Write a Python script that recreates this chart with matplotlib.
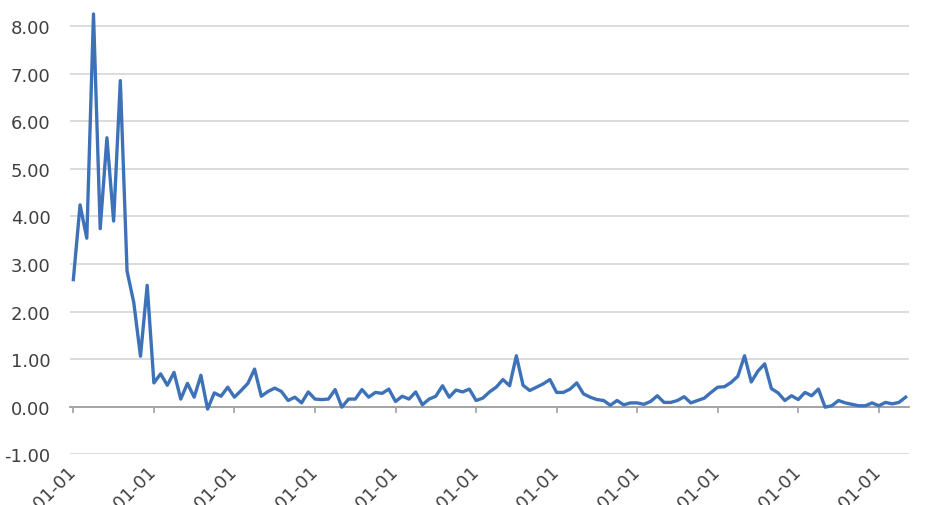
import matplotlib
matplotlib.use("Agg")
import matplotlib.pyplot as plt
import numpy as np

values = [2.67, 4.24, 3.54, 8.25, 3.74, 5.65, 3.90, 6.85, 2.85, 2.19, 1.06, 2.55,
          0.50, 0.69, 0.45, 0.72, 0.16, 0.49, 0.20, 0.66, -0.05, 0.29, 0.22, 0.41,
          0.20, 0.34, 0.49, 0.79, 0.22, 0.32, 0.39, 0.32, 0.13, 0.20, 0.08, 0.31,
          0.16, 0.15, 0.16, 0.36, -0.01, 0.16, 0.16, 0.36, 0.20, 0.30, 0.28, 0.37,
          0.11, 0.22, 0.16, 0.31, 0.04, 0.16, 0.22, 0.44, 0.20, 0.35, 0.31, 0.37,
          0.13, 0.18, 0.31, 0.41, 0.57, 0.44, 1.07, 0.45, 0.34, 0.41, 0.48, 0.57,
          0.30, 0.30, 0.37, 0.50, 0.27, 0.20, 0.15, 0.13, 0.03, 0.13, 0.04, 0.08,
          0.08, 0.05, 0.11, 0.23, 0.09, 0.09, 0.13, 0.21, 0.08, 0.13, 0.18, 0.30,
          0.41, 0.42, 0.51, 0.64, 1.07, 0.52, 0.75, 0.90, 0.38, 0.29, 0.13, 0.23,
          0.15, 0.30, 0.23, 0.37, -0.01, 0.02, 0.13, 0.08, 0.05, 0.02, 0.02, 0.08,
          0.02, 0.09, 0.06, 0.09, 0.20]

tick_labels = ['2008-01-01', '2009-01-01', '2010-01-01', '2011-01-01', '2012-01-01',
               '2013-01-01', '2014-01-01', '2015-01-01', '2016-01-01', '2017-01-01',
               '2018-01-01']
months_per_label = 12

y_ticks = [-1, 0, 1, 2, 3, 4, 5, 6, 7, 8]

fig = plt.figure(figsize=(9.31, 5.06), dpi=100)
ax = fig.add_axes([70/931, (506-455.3)/506, 839/931, 452.2/506])

x = np.arange(len(values))
ax.plot(x, values, color='#3D72B8', lw=2.4, solid_joinstyle='round', zorder=3)

ax.set_xlim(-0.5, len(values) - 0.5)
ax.set_ylim(-1, 8.5)
ax.set_yticks(y_ticks)
ax.set_yticklabels([f"{v:.2f}" for v in y_ticks])
ax.yaxis.grid(True, color='#D9D9D9', lw=1.3)
ax.set_axisbelow(True)

for s in ['top', 'right', 'left']:
    ax.spines[s].set_visible(False)
ax.spines['bottom'].set_position(('data', 0))
ax.spines['bottom'].set_color('#A0A0A0')
ax.spines['bottom'].set_linewidth(1.3)
ax.spines['bottom'].set_zorder(2)

ax.set_xticks(np.arange(len(tick_labels)) * months_per_label)
ax.set_xticklabels(tick_labels, rotation=45, ha='right', va='center',
                   rotation_mode='anchor')
ax.tick_params(axis='x', direction='out', length=4, width=1.2, color='#A0A0A0',
               pad=40, labelsize=13, labelcolor='#404040')
ax.tick_params(axis='y', length=0, pad=14, labelsize=13, labelcolor='#404040')

fig.savefig('out.png', dpi=100)
